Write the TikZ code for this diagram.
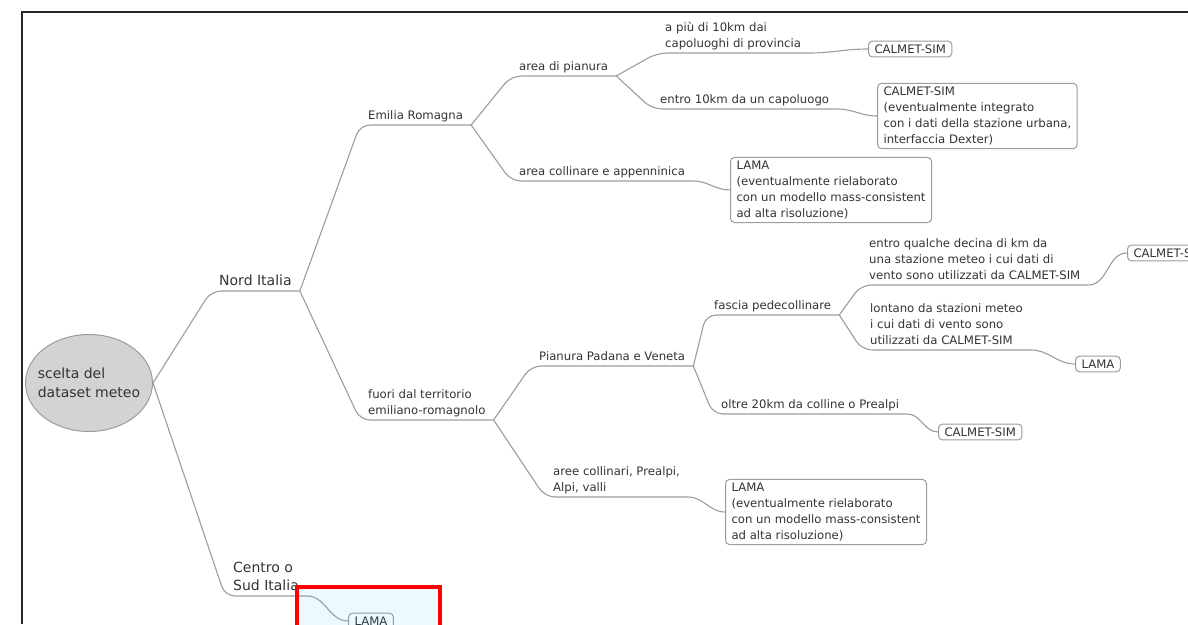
\documentclass[tikz,border=0pt]{standalone}
\usepackage{fontspec}
\setmainfont{DejaVu Sans}
\usetikzlibrary{shapes.geometric}
\definecolor{grigioramo}{HTML}{9C9C9C}
\definecolor{testo}{HTML}{333333}
\definecolor{fondoradice}{HTML}{D3D3D3}
\tikzset{
  voce/.style={anchor=south west, inner xsep=8pt, inner ysep=2.5pt, text depth=3pt, align=left, text=testo, font=\fontsize{11.7}{16}\selectfont},
  vocegrande/.style={voce, font=\fontsize{14}{18}\selectfont},
  foglia/.style={draw=grigioramo, rounded corners=4pt, line width=1pt, fill=white, anchor=west, inner xsep=6pt, inner ysep=3.5pt, align=left, text=testo, font=\fontsize{11.7}{16}\selectfont},
  radice/.style={ellipse, draw=grigioramo, line width=1pt, fill=fondoradice, minimum width=127pt, minimum height=97pt, inner sep=0pt},
  testoradice/.style={align=left, inner sep=0pt, text=testo, font=\fontsize{14}{19}\selectfont},
  ramo/.style={draw=grigioramo, line width=1.1pt, rounded corners=10pt},
  cornice/.style={draw=black!85, line width=1.5pt},
  evidenzia/.style={draw=red, line width=4pt, fill=cyan, fill opacity=0.07}
}
\begin{document}
\begin{tikzpicture}[x=1pt,y=-1pt]
\useasboundingbox (0,0) rectangle (1188,624);
\draw[cornice] (1188,12) -- (22,12) -- (22,624); %cornice
\node[radice] (scelta) at (89,383) {};
\node[testoradice] (sceltatesto) at (scelta.center) {scelta del\\dataset meteo};
% voci
\node[vocegrande] (nord) at (211,291) {Nord Italia};
\node[vocegrande] (centro) at (225,596) {Centro o\\Sud Italia};
\node[voce] (emilia) at (360,125) {Emilia Romagna};
\node[voce] (fuori) at (360,420) {fuori dal territorio\\emiliano-romagnolo};
\node[voce] (pianura) at (511,76) {area di pianura};
\node[voce] (collinare) at (511,181) {area collinare e appenninica};
\node[voce] (apiu) at (657,53) {a più di 10km dai\\capoluoghi di provincia};
\node[voce] (entro) at (652,109) {entro 10km da un capoluogo};
\node[voce] (padana) at (531,366) {Pianura Padana e Veneta};
\node[voce] (aree) at (545,497) {aree collinari, Prealpi,\\Alpi, valli};
\node[voce] (fascia) at (706,315) {fascia pedecollinare};
\node[voce] (oltre) at (713,414) {oltre 20km da colline o Prealpi};
\node[voce] (decina) at (861,285) {entro qualche decina di km da\\una stazione meteo i cui dati di\\vento sono utilizzati da CALMET-SIM};
\node[voce] (lontano) at (862,350) {lontano da stazioni meteo\\i cui dati di vento sono\\utilizzati da CALMET-SIM};
% foglie
\node[foglia] (calmetA) at (868,49) {CALMET-SIM};
\node[foglia] (calmetB) at (877,116) {CALMET-SIM\\(eventualmente integrato\\con i dati della stazione urbana,\\interfaccia Dexter)};
\node[foglia] (lamaA) at (730,190) {LAMA\\(eventualmente rielaborato\\con un modello mass-consistent\\ad alta risoluzione)};
\node[foglia] (calmetC) at (1127,253) {CALMET-SIM};
\node[foglia] (lamaB) at (1075,364) {LAMA};
\node[foglia] (calmetD) at (938,432) {CALMET-SIM};
\node[foglia] (lamaC) at (725,512) {LAMA\\(eventualmente rielaborato\\con un modello mass-consistent\\ad alta risoluzione)};
\node[foglia] (lamaD) at (348,621) {LAMA};
% rami con sottolineatura
\draw[ramo] (scelta.east) -- (nord.south west) -- (nord.south east);
\draw[ramo] (scelta.east) -- (centro.south west) -- (centro.south east);
\draw[ramo] (nord.south east) -- (emilia.south west) -- (emilia.south east);
\draw[ramo] (nord.south east) -- (fuori.south west) -- (fuori.south east);
\draw[ramo] (emilia.south east) -- (pianura.south west) -- (pianura.south east);
\draw[ramo] (emilia.south east) -- (collinare.south west) -- (collinare.south east);
\draw[ramo] (pianura.south east) -- (apiu.south west) -- (apiu.south east);
\draw[ramo] (pianura.south east) -- (entro.south west) -- (entro.south east);
\draw[ramo] (fuori.south east) -- (padana.south west) -- (padana.south east);
\draw[ramo] (fuori.south east) -- (aree.south west) -- (aree.south east);
\draw[ramo] (padana.south east) -- (fascia.south west) -- (fascia.south east);
\draw[ramo] (padana.south east) -- (oltre.south west) -- (oltre.south east);
\draw[ramo] (fascia.south east) -- (decina.south west) -- (decina.south east);
\draw[ramo] (fascia.south east) -- (lontano.south west) -- (lontano.south east);
% verso le foglie
\draw[ramo] (apiu.south east) to[out=0,in=180] (calmetA.west);
\draw[ramo] (entro.south east) to[out=0,in=180] (calmetB.west);
\draw[ramo] (collinare.south east) to[out=0,in=180] (lamaA.west);
\draw[ramo] (decina.south east) to[out=0,in=180] (calmetC.west);
\draw[ramo] (lontano.south east) to[out=0,in=180] (lamaB.west);
\draw[ramo] (oltre.south east) to[out=0,in=180] (calmetD.west);
\draw[ramo] (aree.south east) to[out=0,in=180] (lamaC.west);
\draw[ramo] (centro.south east) to[out=0,in=180] (lamaD.west);
\draw[evidenzia] (297,587) rectangle (440,634); %riquadro rosso
\end{tikzpicture}
\end{document}
